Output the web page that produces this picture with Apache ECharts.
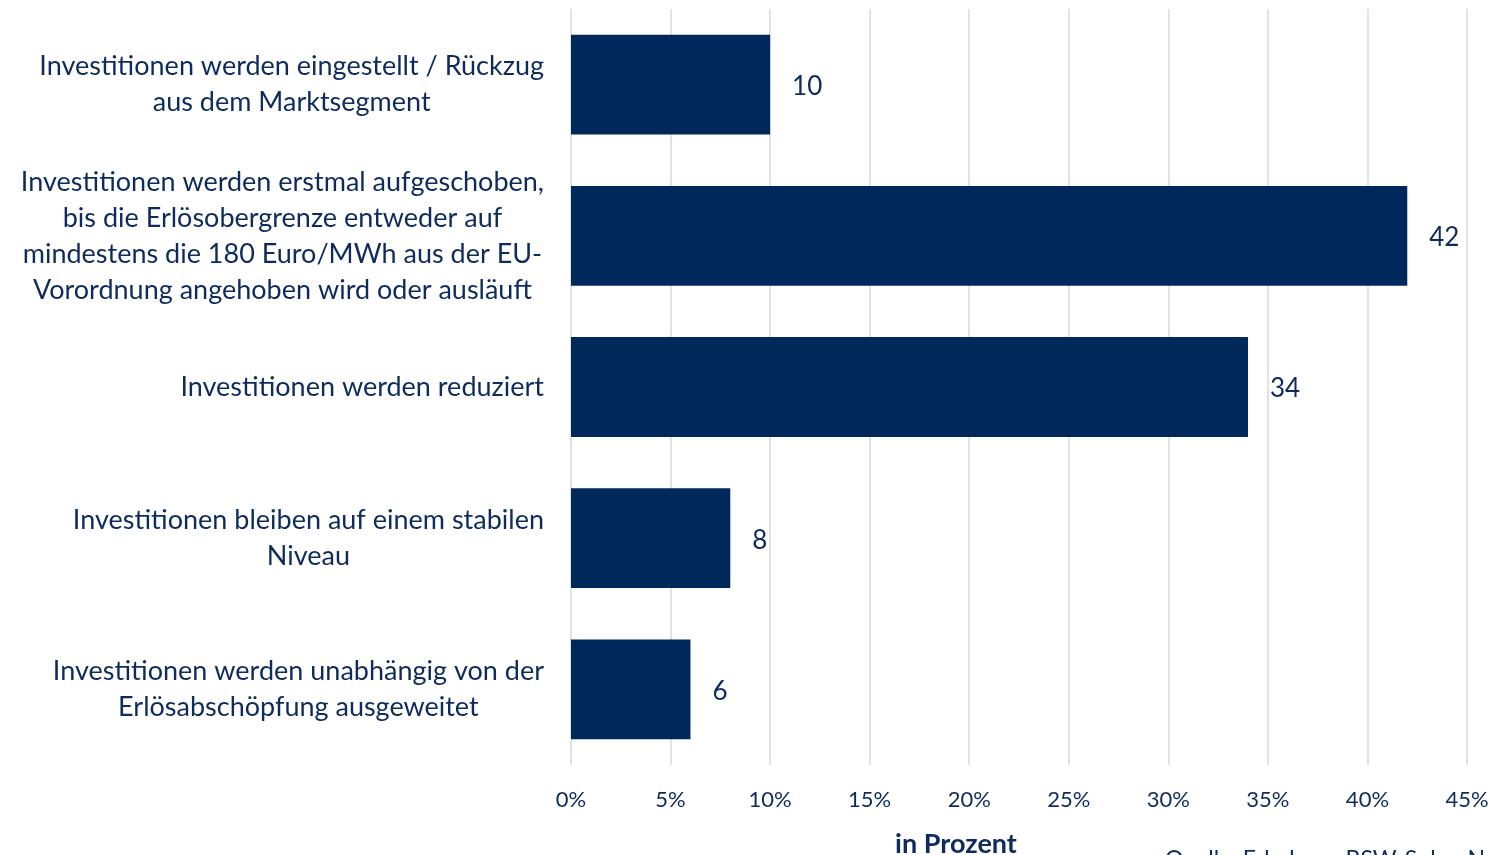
<!DOCTYPE html>
<html>
<head>
<meta charset="utf-8">
<script src="https://cdn.jsdelivr.net/npm/echarts@6/dist/echarts.min.js"></script>
<style>
  html, body { margin: 0; padding: 0; background: #fff; }
  #chart { width: 1493px; height: 855px; }
</style>
</head>
<body>
<div id="chart"></div>
<script>
const categories = [
  "Investitionen werden eingestellt / Rückzug\naus dem Marktsegment",
  "Investitionen werden erstmal aufgeschoben,\nbis die Erlösobergrenze entweder auf\nmindestens die 180 Euro/MWh aus der EU-\nVorordnung angehoben wird oder ausläuft",
  "Investitionen werden reduziert",
  "Investitionen bleiben auf einem stabilen\nNiveau",
  "Investitionen werden unabhängig von der\nErlösabschöpfung ausgeweitet",
];
const values = [10, 42, 34, 8, 6];
const xTicks = [0, 5, 10, 15, 20, 25, 30, 35, 40, 45];

const navy = "#00285a";
const textColor = "#0d2b5c";
const font = "Lato, 'Open Sans', sans-serif";

const chart = echarts.init(document.getElementById("chart"), null, { renderer: "canvas" });

const option = {
  backgroundColor: "#fff",
  animation: false,
  title: [
    {
      text: "in Prozent",
      left: 951,
      top: 826,
      textAlign: "center",
      textStyle: { color: textColor, fontFamily: font, fontSize: 27, fontWeight: "bold" },
    },
    {
      text: "Quelle: Erhebung BSW-Solar; N = 13",
      left: 1160,
      top: 843,
      textStyle: { color: textColor, fontFamily: font, fontSize: 23, fontWeight: "normal" },
    },
  ],
  grid: { left: 571, right: 26, top: 9, bottom: 90, containLabel: false },
  xAxis: {
    type: "value",
    min: xTicks[0],
    max: xTicks[xTicks.length - 1],
    interval: 5,
    axisLine: { show: false },
    axisTick: { show: false },
    splitLine: { show: true, lineStyle: { color: "#d9d9d9", width: 1.5 } },
    axisLabel: {
      color: textColor,
      fontFamily: font,
      fontSize: 22,
      margin: 24,
      formatter: "{value}%",
    },
  },
  yAxis: {
    type: "category",
    data: categories,
    inverse: true,
    axisLine: { show: false },
    axisTick: { show: false },
    axisLabel: {
      margin: 27,
      align: "right",
      formatter: (v) => v.split("\n").map((l) => "{c|" + l + "}").join("\n"),
      rich: {
        c: {
          align: "center",
          color: textColor,
          fontFamily: font,
          fontSize: 27,
          lineHeight: 36,
        },
      },
    },
  },
  series: [
    {
      type: "bar",
      data: values,
      barCategoryGap: "34%",
      itemStyle: { color: navy },
      label: {
        show: true,
        position: "right",
        distance: 22,
        offset: [0, 2],
        color: textColor,
        fontFamily: font,
        fontSize: 26,
      },
    },
  ],
};

chart.setOption(option);
</script>
</body>
</html>
